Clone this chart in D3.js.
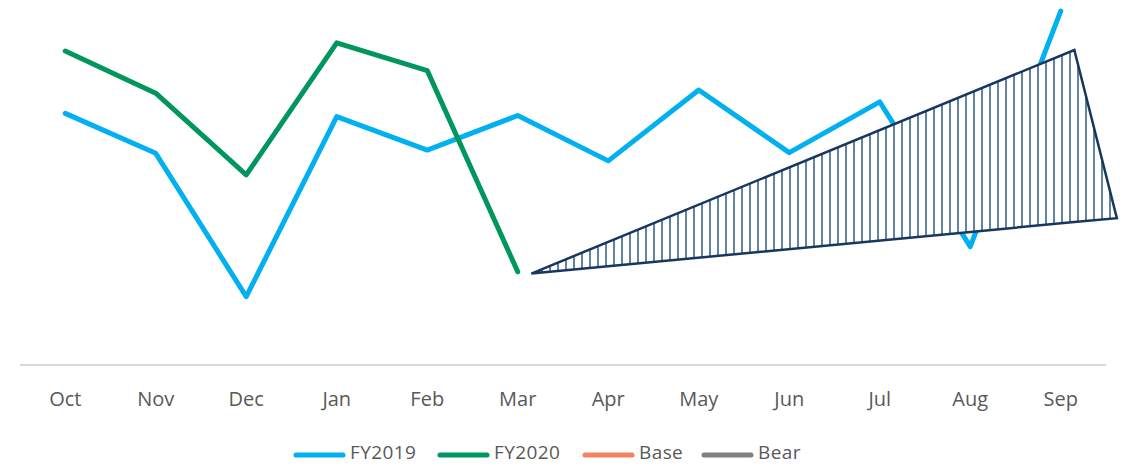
<!DOCTYPE html>
<html>
<head>
<meta charset="utf-8">
<script src="https://cdn.jsdelivr.net/npm/d3@7"></script>
<style>
  html, body { margin: 0; padding: 0; background: #fff; }
  svg text { font-family: "Open Sans", sans-serif; fill: #595959; }
</style>
</head>
<body>
<div id="app"></div>
<script>
// values (arbitrary units, axis = 0)
const MONTHS = ['Oct', 'Nov', 'Dec', 'Jan', 'Feb', 'Mar', 'Apr', 'May', 'Jun', 'Jul', 'Aug', 'Sep'];
const FY2019 = [69.9, 58.8, 19.0, 69.0, 59.7, 69.3, 56.7, 76.4, 59.0, 73.1, 32.9, 98.3];
const FY2020 = [87.2, 75.5, 52.8, 89.5, 81.8, 25.9];

// scenario band (Base lower edge / Bear upper edge), positions in month index units
const SCENARIO_POS = [5.15, 11.15, 11.62];
const BASE = [25.4, 39.7, 40.8];
const BEAR = [25.4, 87.5, 40.8];

const LEGEND = ['FY2019', 'FY2020', 'Base', 'Bear'];
const COLORS = {FY2019: '#00b0f0', FY2020: '#00965e', Base: '#f4845f', Bear: '#7f7f84'};

const W = 1127, H = 465;
const plot = {left: 20, right: 1106, top: 5, bottom: 365};

const svg = d3.select('#app').append('svg')
  .attr('width', W).attr('height', H);

const x = d3.scaleBand().domain(MONTHS).range([plot.left, plot.right]);
const y = d3.scaleLinear().domain([0, 100]).range([plot.bottom, plot.top]);
// month index -> pixel (centre of band)
const xi = d3.scaleLinear().domain([0, 1])
  .range([x(MONTHS[0]) + x.bandwidth() / 2, x(MONTHS[1]) + x.bandwidth() / 2]);

// hatch pattern
const defs = svg.append('defs');
const pat = defs.append('pattern')
  .attr('id', 'vhatch')
  .attr('patternUnits', 'userSpaceOnUse')
  .attr('width', 8).attr('height', 8)
  .attr('x', 2);
pat.append('rect').attr('width', 8).attr('height', 8).attr('fill', '#fff');
pat.append('line')
  .attr('x1', 4).attr('x2', 4).attr('y1', 0).attr('y2', 8)
  .attr('stroke', '#1f4e79').attr('stroke-width', 1.4);

// axis line
svg.append('line')
  .attr('x1', plot.left).attr('x2', plot.right)
  .attr('y1', y(0)).attr('y2', y(0))
  .attr('stroke', '#d9d9d9').attr('stroke-width', 2);

// month labels
const xAxis = svg.append('g')
  .attr('transform', `translate(0,${y(0)})`)
  .call(d3.axisBottom(x).tickSize(0).tickPadding(0));
xAxis.select('.domain').remove();
xAxis.selectAll('text')
  .attr('y', 41)
  .attr('dy', 0)
  .style('font-size', '20px')
  .style('font-family', '"Open Sans", sans-serif')
  .attr('fill', '#595959');

const line = d3.line()
  .x((d, i) => x(MONTHS[i]) + x.bandwidth() / 2)
  .y(d => y(d));

svg.append('path')
  .datum(FY2019)
  .attr('d', line)
  .attr('fill', 'none')
  .attr('stroke', COLORS.FY2019)
  .attr('stroke-width', 5)
  .attr('stroke-linecap', 'round')
  .attr('stroke-linejoin', 'round');

svg.append('path')
  .datum(FY2020)
  .attr('d', line)
  .attr('fill', 'none')
  .attr('stroke', COLORS.FY2020)
  .attr('stroke-width', 5)
  .attr('stroke-linecap', 'round')
  .attr('stroke-linejoin', 'round');

// scenario band, drawn over the lines
const band = SCENARIO_POS.map((p, i) => ({p, lo: BASE[i], hi: BEAR[i]}));
const area = d3.area()
  .x(d => xi(d.p))
  .y0(d => y(d.lo))
  .y1(d => y(d.hi));

svg.append('path')
  .datum(band)
  .attr('d', area)
  .attr('fill', 'url(#vhatch)')
  .attr('stroke', '#17375e')
  .attr('stroke-width', 2.5)
  .attr('stroke-linejoin', 'miter');

// legend
const legendX = [294, 438, 583, 702];
const lg = svg.append('g').attr('transform', 'translate(0,455)');
LEGEND.forEach((name, i) => {
  const g = lg.append('g').attr('transform', `translate(${legendX[i]},0)`);
  g.append('line')
    .attr('x1', 2).attr('x2', 49).attr('y1', 0).attr('y2', 0)
    .attr('stroke', COLORS[name]).attr('stroke-width', 5)
    .attr('stroke-linecap', 'round');
  g.append('text')
    .attr('x', 56).attr('y', 4)
    .style('font-size', '19px')
    .style('letter-spacing', '0.4px')
    .text(name);
});
</script>
</body>
</html>
